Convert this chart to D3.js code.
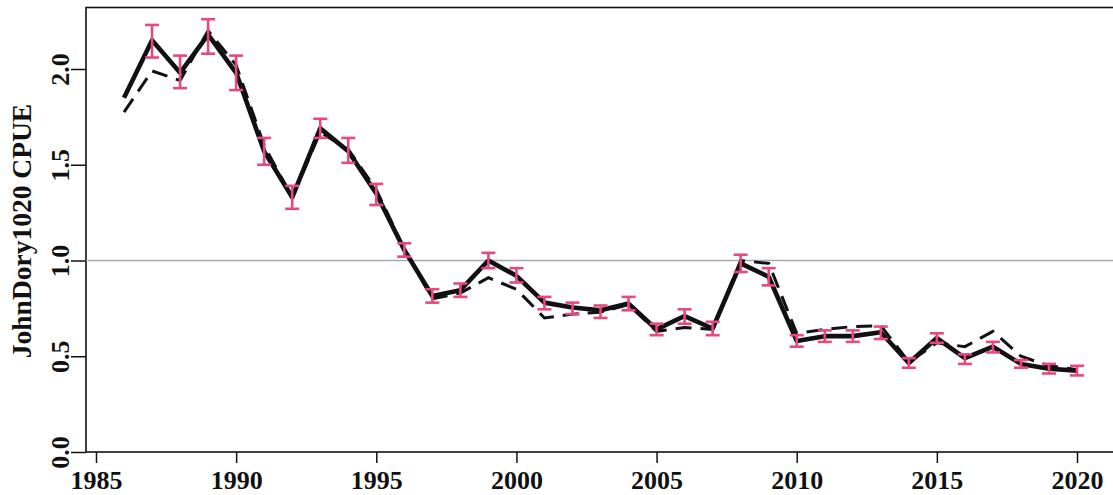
<!DOCTYPE html>
<html><head><meta charset="utf-8">
<script src="https://cdn.jsdelivr.net/npm/d3@7/dist/d3.min.js"></script>
<style>
html,body{margin:0;padding:0;background:#fff;}
svg{display:block;}
text{font-family:"Liberation Serif","Times New Roman",serif;font-weight:bold;fill:#111;}
</style></head>
<body><svg id="chart" width="1113" height="495"></svg>
<script>
const years = d3.range(1986, 2021);
const cpue = [1.85,2.15,1.98,2.18,1.98,1.57,1.33,1.69,1.57,1.35,1.055,0.815,0.845,1.0,0.92,0.78,0.755,0.74,0.775,0.64,0.71,0.645,0.985,0.915,0.58,0.605,0.605,0.625,0.465,0.595,0.49,0.55,0.46,0.435,0.425];
const upper = [null,2.23,2.07,2.26,2.07,1.64,1.39,1.74,1.64,1.40,1.09,0.85,0.88,1.04,0.96,0.81,0.78,0.765,0.81,0.67,0.745,0.68,1.03,0.96,0.61,0.635,0.635,0.655,0.49,0.62,0.51,0.575,0.48,0.46,0.45];
const lower = [null,2.06,1.90,2.08,1.89,1.50,1.27,1.64,1.51,1.29,1.02,0.78,0.81,0.96,0.885,0.745,0.72,0.70,0.74,0.61,0.67,0.61,0.94,0.87,0.55,0.575,0.575,0.59,0.44,0.57,0.46,0.52,0.44,0.41,0.40];
const unstd = [1.775,1.99,1.94,2.2,2.02,1.6,1.33,1.67,1.58,1.37,1.06,0.80,0.83,0.91,0.85,0.70,0.72,0.73,0.77,0.63,0.65,0.64,1.0,0.985,0.62,0.64,0.655,0.66,0.47,0.57,0.55,0.63,0.50,0.45,0.43];
const xTicks = [1985,1990,1995,2000,2005,2010,2015,2020];
const yTicks = [0,0.5,1,1.5,2];
const yTickLabels = ["0.0","0.5","1.0","1.5","2.0"];
const yTitle = "JohnDory1020 CPUE";
const pink = "#e8487e";

const svg = d3.select("#chart");
const pLeft = 86, pTop = 7.5, pBottom = 452, pRight = 1116;
const x = d3.scaleLinear().domain([1985, 2020]).range([96, 1077]);
const y = d3.scaleLinear().domain([0, 2]).range([452, 69]);

// box
svg.append("rect").attr("x", pLeft).attr("y", pTop).attr("width", pRight-pLeft).attr("height", pBottom-pTop)
  .attr("fill","none").attr("stroke","#111").attr("stroke-width",1.6);

// reference line at 1
svg.append("line").attr("x1", pLeft).attr("x2", pRight).attr("y1", y(1)).attr("y2", y(1))
  .attr("stroke","#aaa").attr("stroke-width",1.4);

// x axis
const xa = svg.append("g").attr("transform",`translate(0,${pBottom})`)
  .call(d3.axisBottom(x).tickValues(xTicks).tickFormat(d3.format("d")).tickSize(11).tickPadding(8));
xa.select(".domain").remove();
xa.selectAll("line").attr("stroke","#111").attr("stroke-width",1.5);
xa.selectAll("text").style("font-size","26px").attr("fill","#111");

// y axis
const ya = svg.append("g").attr("transform",`translate(${pLeft},0)`)
  .call(d3.axisLeft(y).tickValues(yTicks).tickFormat((d,i)=>yTickLabels[i]).tickSize(15).tickPadding(0));
ya.select(".domain").remove();
ya.selectAll("line").attr("stroke","#111").attr("stroke-width",1.5);
ya.selectAll("text").style("font-size","26px").attr("fill","#111")
  .attr("text-anchor","middle").attr("dy",null).attr("x",null)
  .attr("transform","translate(-17,0) rotate(-90)");

// title
svg.append("text").attr("transform",`translate(31,231) rotate(-90)`)
  .attr("text-anchor","middle").style("font-size","27.5px").text(yTitle);

const line = d3.line().x((d,i)=>x(years[i])).y(d=>y(d));

svg.append("path").datum(unstd).attr("d", line).attr("fill","none")
  .attr("stroke","#111").attr("stroke-width",3).attr("stroke-dasharray","16,9");
svg.append("path").datum(cpue).attr("d", line).attr("fill","none")
  .attr("stroke","#111").attr("stroke-width",4.6).attr("stroke-linejoin","round");

// error bars
const eb = svg.append("g").attr("stroke", pink).attr("stroke-width",2.6).attr("fill","none");
years.forEach((yr,i)=>{
  if (upper[i]==null) return;
  const cx = x(yr);
  eb.append("line").attr("x1",cx).attr("x2",cx).attr("y1",y(upper[i])).attr("y2",y(lower[i]));
  eb.append("line").attr("x1",cx-7).attr("x2",cx+7).attr("y1",y(upper[i])).attr("y2",y(upper[i]));
  eb.append("line").attr("x1",cx-7).attr("x2",cx+7).attr("y1",y(lower[i])).attr("y2",y(lower[i]));
});
</script></body></html>
